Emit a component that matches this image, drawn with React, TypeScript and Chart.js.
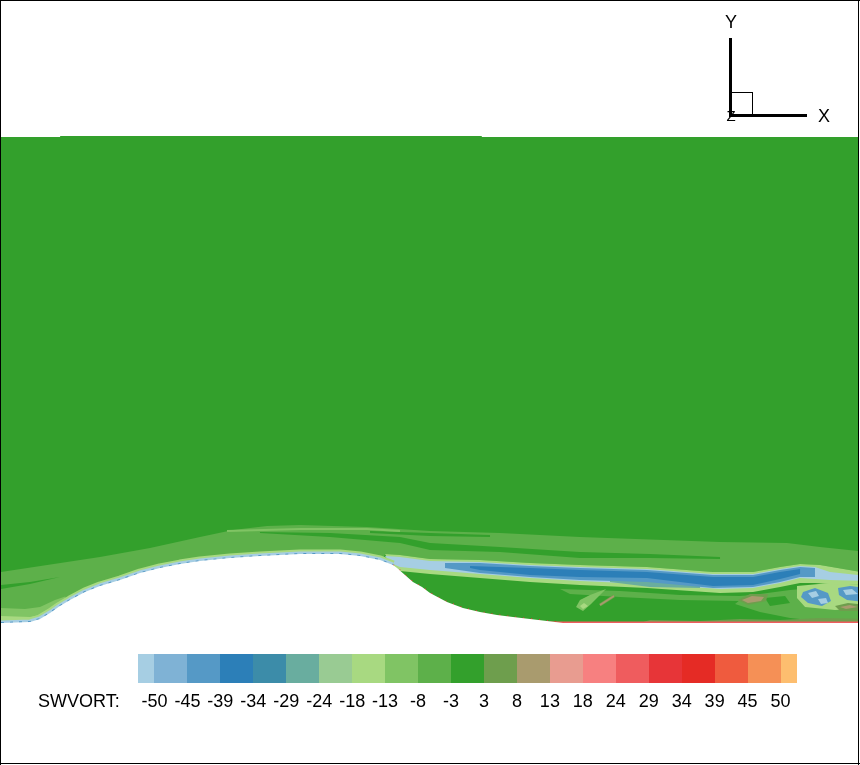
import { useEffect, useRef } from "react";
import { Chart, registerables } from "chart.js";

Chart.register(...registerables);

type P = [number, number];

// ---- colour bar (SWVORT contour levels) ----
const variableName = "SWVORT:";
const legendLabels = ["-50", "-45", "-39", "-34", "-29", "-24", "-18", "-13", "-8", "-3", "3", "8", "13", "18", "24", "29", "34", "39", "45", "50"];
const legendColors = ["#a6cee3", "#7fb2d5", "#5599c6", "#2c7fb8", "#3c8ca9", "#69ad9f", "#99cb93", "#a8d981", "#80c464", "#5db04a", "#33a02c", "#6e9e4d", "#a99b6e", "#e89c90", "#f78080", "#ef5c5e", "#e73538", "#e52b25", "#ef5b3e", "#f59056", "#fdbe6f"];

// ---- geometry (x/h, y/h) ----
const hillProfile: P[] = [[0, 0], [0.34, 0.012], [0.455, 0.047], [0.572, 0.117], [0.688, 0.198], [0.805, 0.268], [0.98, 0.362], [1.155, 0.432], [1.389, 0.502], [1.622, 0.583], [1.855, 0.642], [2.089, 0.688], [2.322, 0.723], [2.672, 0.758], [3.022, 0.782], [3.489, 0.805], [3.956, 0.805], [4.189, 0.782], [4.422, 0.735], [4.574, 0.677], [4.621, 0.642], [4.807, 0.478], [4.913, 0.42], [5.006, 0.35], [5.204, 0.245], [5.391, 0.175], [5.589, 0.128], [5.788, 0.093], [5.974, 0.07], [6.173, 0.047], [6.371, 0.023], [6.558, 0], [10.1, 0]];
const domainTop: P[] = [[0, 5.671], [0.69, 5.671], [0.69, 5.683], [5.61, 5.683], [5.61, 5.671], [10.1, 5.671]];

// ---- contour bands ----
const lightBandTop: P[] = [[0, 0.595], [1.155, 0.77], [1.739, 0.875], [2.322, 1.003], [2.707, 1.085], [3.104, 1.132], [3.489, 1.144], [3.874, 1.132], [4.271, 1.12], [5.006, 1.074], [5.823, 1.05], [6.756, 1.003], [8.39, 0.945], [9.172, 0.933], [9.557, 0.887], [10.1, 0.828]];
const sheathTop: P[] = [[4.481, 0.805], [4.656, 0.793], [5.006, 0.747], [5.589, 0.735], [6.173, 0.7], [6.756, 0.677], [7.538, 0.653], [8.308, 0.595], [8.775, 0.595], [9.09, 0.653], [9.324, 0.688], [9.557, 0.677], [10.1, 0.583]];
const sheathBottom: P[] = [[10.1, 0.443], [9.673, 0.455], [9.498, 0.467], [9.324, 0.467], [9.09, 0.42], [8.775, 0.362], [8.39, 0.35], [7.538, 0.408], [6.756, 0.443], [6.173, 0.478], [5.589, 0.525], [5.006, 0.572], [4.656, 0.607], [4.562, 0.653]];

const stripeLeft: P[] = [[0, 0.443], [0.338, 0.478], [0.688, 0.537], [0.338, 0.455], [0, 0.397]];
const stripeMain: P[] = [[3.022, 1.062], [3.839, 1.05], [4.656, 1.003], [5.006, 0.933], [5.823, 0.887], [6.756, 0.828], [7.573, 0.805], [8.39, 0.77], [8.39, 0.747], [7.573, 0.758], [6.756, 0.758], [5.823, 0.828], [5.006, 0.852], [4.656, 0.933], [3.839, 1.003], [3.022, 1.05]];
const stripeThin: P[] = [[4.306, 1.074], [5.006, 1.05], [5.706, 1.027], [5.706, 1.003], [5.006, 1.015], [4.306, 1.05]];
const lightStreak: P[] = [[2.637, 1.074], [3.489, 1.097], [4.271, 1.097], [4.656, 1.074]];

const footOuter: P[] = [[0, 0.175], [0.28, 0.163], [0.455, 0.187], [0.63, 0.268], [0.75, 0.31], [0.8, 0.1], [0, -0.1]];
const footInner: P[] = [[0, 0.082], [0.338, 0.07], [0.455, 0.094], [0.572, 0.152], [0.65, 0.21], [0.7, 0.1], [0, -0.1]];

const subSheathPatch: P[] = [[6.523, 0.397], [7.223, 0.373], [7.923, 0.327], [8.623, 0.315], [9.09, 0.35], [9.207, 0.292], [8.623, 0.257], [7.923, 0.268], [7.223, 0.303], [6.639, 0.338]];
const rightZone: P[] = [[8.681, 0.315], [9.207, 0.385], [10.1, 0.455], [10.1, -0.1], [9.557, 0.023], [9.207, 0.058], [8.856, 0.128], [8.565, 0.222]];
const rightIsland: P[] = [[8.915, 0.292], [9.149, 0.315], [9.207, 0.233], [8.973, 0.198]];
const blobHalo: P[] = [[9.288, 0.432], [9.673, 0.467], [10.1, 0.443], [10.1, 0.175], [9.732, 0.152], [9.382, 0.187], [9.288, 0.292]];

const shearOuterTop: P[] = [[4.481, 0.782], [4.656, 0.77], [5.006, 0.723], [5.589, 0.712], [6.173, 0.677], [6.756, 0.653], [7.538, 0.63], [8.308, 0.572], [8.775, 0.572], [9.09, 0.63], [9.324, 0.665], [9.498, 0.653], [9.673, 0.595], [10.1, 0.548]];
const shearOuterBottom: P[] = [[10.1, 0.49], [9.673, 0.502], [9.498, 0.513], [9.324, 0.525], [9.09, 0.467], [8.775, 0.408], [8.39, 0.397], [7.538, 0.455], [6.756, 0.49], [6.173, 0.525], [5.589, 0.572], [5.006, 0.618], [4.656, 0.653], [4.539, 0.7]];
const shearTeal: P[] = [[7.106, 0.525], [7.573, 0.525], [8.156, 0.467], [8.156, 0.408], [7.573, 0.42], [7.106, 0.478]];
const shearMid: P[] = [[5.181, 0.7], [5.589, 0.7], [6.173, 0.665], [6.756, 0.642], [7.538, 0.618], [8.308, 0.56], [8.775, 0.56], [9.09, 0.618], [9.324, 0.653], [9.498, 0.642], [9.498, 0.537], [9.324, 0.537], [9.09, 0.478], [8.775, 0.42], [8.308, 0.408], [7.538, 0.478], [6.756, 0.502], [6.173, 0.537], [5.589, 0.583], [5.181, 0.642]];
const shearCore: P[] = [[5.473, 0.665], [6.173, 0.642], [6.756, 0.618], [7.538, 0.595], [8.308, 0.537], [8.775, 0.537], [9.09, 0.595], [9.324, 0.63], [9.324, 0.572], [9.09, 0.513], [8.775, 0.443], [8.308, 0.432], [7.538, 0.525], [6.756, 0.537], [6.173, 0.56], [5.589, 0.618], [5.473, 0.642]];

const blobA: P[] = [[9.359, 0.362], [9.498, 0.408], [9.65, 0.35], [9.685, 0.257], [9.58, 0.198], [9.417, 0.233], [9.335, 0.303]];
const blobALight1: P[] = [[9.417, 0.35], [9.51, 0.373], [9.545, 0.315], [9.464, 0.292]];
const blobALight2: P[] = [[9.533, 0.28], [9.627, 0.292], [9.65, 0.233], [9.568, 0.222]];
const blobB: P[] = [[9.767, 0.408], [9.907, 0.432], [10.1, 0.408], [10.1, 0.245], [9.872, 0.268], [9.778, 0.327]];
const blobBLight: P[] = [[9.825, 0.385], [9.93, 0.397], [10.0, 0.338], [9.86, 0.327]];

const tanAOuter: P[] = [[8.6, 0.268], [8.74, 0.338], [8.95, 0.338], [8.926, 0.257], [8.716, 0.21]];
const tanAInner: P[] = [[8.646, 0.268], [8.763, 0.315], [8.903, 0.303], [8.868, 0.257], [8.716, 0.233]];
const tanBOuter: P[] = [[9.732, 0.198], [9.883, 0.233], [10.1, 0.21], [10.1, 0.14], [9.79, 0.14]];
const tanBInner: P[] = [[9.79, 0.187], [9.907, 0.21], [10.0, 0.187], [9.86, 0.163]];
const tanStreak: P[] = [[6.989, 0.21], [7.153, 0.315]];

const lightBlob: P[] = [[6.71, 0.187], [6.756, 0.268], [6.873, 0.327], [7.06, 0.397], [6.966, 0.303], [6.885, 0.222], [6.791, 0.14]];
const lightBlobCore: P[] = [[6.756, 0.198], [6.803, 0.233], [6.85, 0.198], [6.791, 0.163]];

const wallOlive: P[] = [[7.456, 0], [7.573, 0.035], [8.156, 0.023], [8.623, 0.047], [9.09, 0.035], [9.557, 0.058], [10.1, 0.047], [10.1, -0.1], [7.456, -0.1]];
const wallRed: P[] = [[6.4, 0], [10.1, 0]];

const C = legendColors;
const toXY = (pts: P[]) => pts.map(([x, y]) => ({ x, y }));

const poly = (pts: P[], color: string) => ({
  data: toXY(pts), fill: "shape", backgroundColor: color, borderColor: color,
  borderWidth: 0, pointRadius: 0, clip: 0, tension: 0,
});
const areaBelow = (pts: P[], color: string) => ({
  data: toXY(pts), fill: "start", backgroundColor: color, borderColor: color,
  borderWidth: 0, pointRadius: 0, clip: 0, tension: 0,
});
const stroke = (pts: P[], color: string, width: number, dash: number[] = []) => ({
  data: toXY(pts), fill: false, borderColor: color, backgroundColor: color,
  borderWidth: width, borderDash: dash, pointRadius: 0, clip: 0, tension: 0,
  borderCapStyle: "butt", borderJoinStyle: "round",
});

const windward = hillProfile.filter(([x]) => x <= 4.58);
const lee = hillProfile.filter(([x]) => x >= 4.57 && x <= 6.6);
const lightBand: P[] = [...lightBandTop, ...[...sheathTop].reverse(), [4.3, 0.4], [0, -0.2]];
const shearSheath: P[] = [...sheathTop, ...sheathBottom];
const shearOuter: P[] = [...shearOuterTop, ...shearOuterBottom];

function buildDatasets() {
  const list: any[] = [
    areaBelow(domainTop, C[10]),
    poly(lightBand, C[9]),
    poly(stripeLeft, C[10]),
    poly(stripeMain, C[10]),
    poly(stripeThin, C[10]),
    stroke(lightStreak, C[8], 2),
    poly(footOuter, C[8]),
    poly(footInner, C[7]),
    poly(subSheathPatch, C[9]),
    poly(rightZone, C[9]),
    poly(rightIsland, C[10]),
    poly(blobHalo, C[7]),
    poly(shearSheath, C[7]),
    poly(shearOuter, C[0]),
    poly(shearTeal, C[5]),
    poly(shearMid, C[2]),
    poly(shearCore, C[3]),
    poly(blobA, C[2]),
    poly(blobALight1, C[0]),
    poly(blobALight2, C[0]),
    poly(blobB, C[2]),
    poly(blobBLight, C[0]),
    poly(tanAOuter, C[11]),
    poly(tanAInner, C[12]),
    poly(tanBOuter, C[11]),
    poly(tanBInner, C[12]),
    stroke(tanStreak, C[11], 3),
    stroke(tanStreak, C[12], 1.5),
    poly(lightBlob, C[8]),
    poly(lightBlobCore, C[7]),
    poly(wallOlive, C[11]),
    stroke(wallRed, C[15], 3),
    stroke(lee, C[16], 2, [1, 7]),
    stroke(windward, C[7], 9),
    stroke(windward, C[0], 5),
    stroke(windward, C[2], 2, [3, 6]),
    areaBelow(hillProfile, "#ffffff"),
  ];
  const n = list.length;
  return list.map((d, i) => ({ ...d, order: n - i }));
}

const FONT = '"Liberation Sans", Arial, Helvetica, sans-serif';

const overlay = {
  id: "overlay",
  afterDraw(chart: any) {
    const ctx: CanvasRenderingContext2D = chart.ctx;
    ctx.save();
    // colour bar
    const barL = 138, barR = 797, barT = 654, barB = 683;
    const unit = (barR - barL) / (legendColors.length - 1);
    let x0 = barL;
    legendColors.forEach((c, i) => {
      const w = i === 0 || i === legendColors.length - 1 ? unit / 2 : unit;
      const a = Math.round(x0), b = Math.round(x0 + w);
      ctx.fillStyle = c;
      ctx.fillRect(a, barT, b - a, barB - barT);
      x0 += w;
    });
    ctx.fillStyle = "#000";
    ctx.font = "18px " + FONT;
    ctx.textBaseline = "alphabetic";
    ctx.textAlign = "center";
    legendLabels.forEach((t, i) => {
      ctx.fillText(t, barL + unit / 2 + i * unit, 707);
    });
    ctx.textAlign = "left";
    ctx.fillText(variableName, 38, 707);

    // axis triad
    ctx.textAlign = "center";
    ctx.font = "15px " + FONT;
    ctx.fillText("Z", 731, 121);
    ctx.font = "18px " + FONT;
    ctx.fillText("Y", 731, 28);
    ctx.fillText("X", 824, 122);
    ctx.fillRect(729, 38, 3, 79);
    ctx.fillRect(729, 114, 78, 3);
    ctx.strokeStyle = "#000";
    ctx.lineWidth = 1;
    ctx.strokeRect(730.5, 92.5, 22, 23);

    // frame
    ctx.fillRect(0, 0, 860, 1);
    ctx.fillRect(0, 0, 1, 765);
    ctx.fillRect(858, 0, 1, 765);
    ctx.fillRect(0, 763, 860, 1);
    ctx.restore();
  },
};

export default function App() {
  const ref = useRef<HTMLCanvasElement>(null);
  useEffect(() => {
    document.body.style.margin = "0";
    const canvas = ref.current!;
    const chart = new Chart(canvas, {
      type: "line",
      data: { datasets: buildDatasets() },
      options: {
        animation: false,
        responsive: false,
        devicePixelRatio: 1,
        events: [],
        layout: { padding: { left: 1, right: 2, top: 136, bottom: 142 } },
        scales: {
          x: { type: "linear", min: 0, max: 10, display: false },
          y: { type: "linear", min: 0, max: 5.683, display: false },
        },
        plugins: {
          legend: { display: false },
          tooltip: { enabled: false },
          filler: { propagate: false },
        },
      },
      plugins: [overlay],
    } as any);
    return () => chart.destroy();
  }, []);
  return (
    <canvas ref={ref} width={860} height={765} style={{ display: "block", width: 860, height: 765 }} />
  );
}
